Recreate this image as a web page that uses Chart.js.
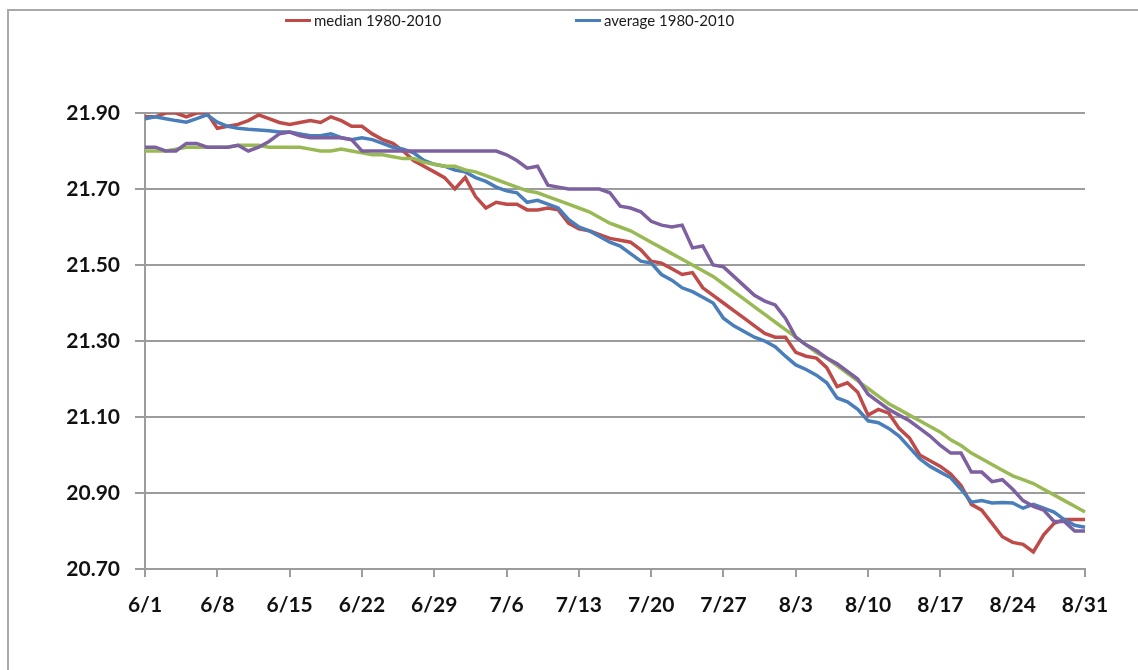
<!DOCTYPE html>
<html>
<head>
<meta charset="utf-8">
<script src="https://cdn.jsdelivr.net/npm/chart.js@4.4.1/dist/chart.umd.min.js"></script>
<style>
  html, body { margin: 0; padding: 0; background: #ffffff; }
  #wrap { position: relative; width: 1138px; height: 670px; overflow: hidden; background: #fff; }
  #frame { position: absolute; left: 7px; top: 9px; width: 1200px; height: 700px;
           border-left: 2px solid #a9a9a9; border-top: 2px solid #a9a9a9; }
  #chart { position: absolute; left: 0; top: 0; }
  #legend { position: absolute; left: 0; top: 9px; width: 1138px; height: 22px;
            font-family: Lato, "Liberation Sans", sans-serif; font-size: 15px; color: #1a1a1a; }
  .item { position: absolute; top: 0; height: 22px; display: flex; align-items: center; white-space: nowrap; }
  .swatch { display: inline-block; width: 26px; height: 3px; margin-right: 3px; }
</style>
</head>
<body>
<div id="wrap">
  <div id="frame"></div>
  <canvas id="chart" width="1138" height="670"></canvas>
  <div id="legend"></div>
</div>
<script>
// ---- data ----
const categories = [
  '6/1','6/2','6/3','6/4','6/5','6/6','6/7','6/8','6/9','6/10','6/11','6/12','6/13','6/14','6/15',
  '6/16','6/17','6/18','6/19','6/20','6/21','6/22','6/23','6/24','6/25','6/26','6/27','6/28','6/29','6/30',
  '7/1','7/2','7/3','7/4','7/5','7/6','7/7','7/8','7/9','7/10','7/11','7/12','7/13','7/14','7/15',
  '7/16','7/17','7/18','7/19','7/20','7/21','7/22','7/23','7/24','7/25','7/26','7/27','7/28','7/29','7/30','7/31',
  '8/1','8/2','8/3','8/4','8/5','8/6','8/7','8/8','8/9','8/10','8/11','8/12','8/13','8/14','8/15',
  '8/16','8/17','8/18','8/19','8/20','8/21','8/22','8/23','8/24','8/25','8/26','8/27','8/28','8/29','8/30','8/31'
];
const xTickLabels = ['6/1','6/8','6/15','6/22','6/29','7/6','7/13','7/20','7/27','8/3','8/10','8/17','8/24','8/31'];
const yTicks = [20.70, 20.90, 21.10, 21.30, 21.50, 21.70, 21.90];

const seriesNames = ['median 1980-2010', 'average 1980-2010', '', ''];
const seriesColors = ['#BE4B48', '#4A7EBB', '#98B954', '#7D60A0'];

const medianValues = [
  21.89, 21.89, 21.90, 21.90, 21.89, 21.90, 21.90, 21.86, 21.865, 21.87,
  21.88, 21.895, 21.885, 21.875, 21.87, 21.875, 21.88, 21.875, 21.89, 21.88,
  21.865, 21.865, 21.845, 21.83, 21.82, 21.80, 21.775, 21.76, 21.745, 21.73,
  21.70, 21.73, 21.68, 21.65, 21.665, 21.66, 21.66, 21.645, 21.645, 21.65,
  21.645, 21.61, 21.595, 21.59, 21.58, 21.57, 21.565, 21.56, 21.54, 21.51,
  21.505, 21.49, 21.475, 21.48, 21.44, 21.42, 21.40, 21.38, 21.36, 21.34,
  21.32, 21.31, 21.31, 21.27, 21.26, 21.255, 21.23, 21.18, 21.19, 21.165,
  21.105, 21.12, 21.11, 21.07, 21.045, 21.00, 20.985, 20.97, 20.95, 20.92,
  20.87, 20.855, 20.82, 20.785, 20.77, 20.765, 20.745, 20.79, 20.82, 20.83,
  20.83, 20.83
];
const averageValues = [
  21.885, 21.89, 21.885, 21.88, 21.876, 21.885, 21.895, 21.876, 21.865, 21.86,
  21.857, 21.855, 21.853, 21.85, 21.85, 21.845, 21.84, 21.84, 21.845, 21.835,
  21.83, 21.835, 21.83, 21.82, 21.81, 21.805, 21.795, 21.775, 21.765, 21.76,
  21.75, 21.745, 21.73, 21.72, 21.705, 21.695, 21.69, 21.665, 21.67, 21.66,
  21.65, 21.62, 21.60, 21.59, 21.575, 21.56, 21.55, 21.53, 21.51, 21.505,
  21.475, 21.46, 21.44, 21.43, 21.415, 21.40, 21.36, 21.34, 21.325, 21.31,
  21.30, 21.285, 21.26, 21.237, 21.225, 21.21, 21.19, 21.15, 21.14, 21.12,
  21.09, 21.085, 21.07, 21.05, 21.02, 20.99, 20.97, 20.955, 20.94, 20.91,
  20.876, 20.88, 20.874, 20.875, 20.874, 20.86, 20.87, 20.86, 20.85, 20.83,
  20.815, 20.81
];
const greenValues = [
  21.80, 21.80, 21.80, 21.805, 21.81, 21.81, 21.81, 21.81, 21.81, 21.815,
  21.815, 21.815, 21.81, 21.81, 21.81, 21.81, 21.805, 21.80, 21.80, 21.805,
  21.80, 21.795, 21.79, 21.79, 21.785, 21.78, 21.78, 21.77, 21.765, 21.76,
  21.76, 21.75, 21.745, 21.735, 21.725, 21.715, 21.705, 21.695, 21.69, 21.68,
  21.67, 21.66, 21.65, 21.64, 21.625, 21.61, 21.60, 21.59, 21.575, 21.56,
  21.545, 21.53, 21.515, 21.50, 21.485, 21.47, 21.45, 21.43, 21.41, 21.39,
  21.37, 21.35, 21.33, 21.31, 21.29, 21.27, 21.255, 21.235, 21.215, 21.195,
  21.175, 21.155, 21.135, 21.12, 21.105, 21.09, 21.075, 21.06, 21.04, 21.025,
  21.005, 20.99, 20.975, 20.96, 20.945, 20.935, 20.925, 20.91, 20.895, 20.88,
  20.865, 20.85
];
const purpleValues = [
  21.81, 21.81, 21.80, 21.80, 21.82, 21.82, 21.81, 21.81, 21.81, 21.815,
  21.80, 21.81, 21.825, 21.845, 21.85, 21.84, 21.835, 21.835, 21.835, 21.835,
  21.83, 21.80, 21.80, 21.80, 21.80, 21.80, 21.80, 21.80, 21.80, 21.80,
  21.80, 21.80, 21.80, 21.80, 21.80, 21.79, 21.775, 21.755, 21.76, 21.71,
  21.705, 21.70, 21.70, 21.70, 21.70, 21.69, 21.655, 21.65, 21.64, 21.615,
  21.605, 21.60, 21.605, 21.545, 21.55, 21.50, 21.495, 21.47, 21.445, 21.42,
  21.405, 21.395, 21.36, 21.31, 21.29, 21.275, 21.255, 21.24, 21.22, 21.20,
  21.16, 21.14, 21.12, 21.105, 21.09, 21.07, 21.05, 21.025, 21.005, 21.005,
  20.955, 20.955, 20.93, 20.935, 20.91, 20.88, 20.865, 20.855, 20.825, 20.825,
  20.80, 20.80
];

// ---- legend (only the two named series, as in the original) ----
const legendLeft = [285, 575];
const legendEl = document.getElementById('legend');
[0, 1].forEach((i, k) => {
  const it = document.createElement('div');
  it.className = 'item';
  it.style.left = legendLeft[k] + 'px';
  const sw = document.createElement('span');
  sw.className = 'swatch';
  sw.style.background = seriesColors[i];
  const tx = document.createElement('span');
  tx.textContent = seriesNames[i];
  it.appendChild(sw); it.appendChild(tx);
  legendEl.appendChild(it);
});

// ---- chart ----
const gridGray = '#9c9c9c';
const tickFont = { family: 'Lato, "Liberation Sans", sans-serif', size: 21, weight: 'bold' };

const allSeries = [medianValues, averageValues, greenValues, purpleValues];
const drawOrder = [4, 3, 2, 1];

new Chart(document.getElementById('chart'), {
  type: 'line',
  data: {
    labels: categories,
    datasets: allSeries.map((vals, i) => ({
      label: seriesNames[i],
      data: vals,
      borderColor: seriesColors[i],
      backgroundColor: seriesColors[i],
      borderWidth: 3.5,
      pointRadius: 0,
      tension: 0,
      fill: false,
      order: drawOrder[i]
    }))
  },
  options: {
    responsive: false,
    animation: false,
    devicePixelRatio: 1,
    layout: { padding: { top: 113, right: 53, bottom: 0, left: 0 } },
    plugins: { legend: { display: false }, tooltip: { enabled: false } },
    scales: {
      x: {
        type: 'category',
        offset: false,
        grid: {
          drawOnChartArea: false,
          drawTicks: true,
          tickLength: 8,
          lineWidth: 2,
          color: (ctx) => xTickLabels.includes(categories[ctx.index]) ? gridGray : 'rgba(0,0,0,0)'
        },
        border: { display: true, color: gridGray, width: 2 },
        ticks: {
          autoSkip: false,
          maxRotation: 0,
          minRotation: 0,
          padding: 16,
          color: '#111',
          font: tickFont,
          callback: (v, i) => xTickLabels.includes(categories[i]) ? categories[i] : ''
        },
        afterFit: (scale) => { scale.height = 101; }
      },
      y: {
        min: 20.70,
        max: 21.90,
        afterBuildTicks: (scale) => { scale.ticks = yTicks.map(v => ({ value: v })); },
        grid: { color: gridGray, lineWidth: 2, drawTicks: true, tickLength: 10 },
        border: { display: true, color: gridGray, width: 2 },
        ticks: {
          padding: 15,
          color: '#111',
          font: tickFont,
          callback: (v) => Number(v).toFixed(2)
        },
        afterFit: (scale) => { scale.width = 145; }
      }
    }
  }
});
</script>
</body>
</html>
